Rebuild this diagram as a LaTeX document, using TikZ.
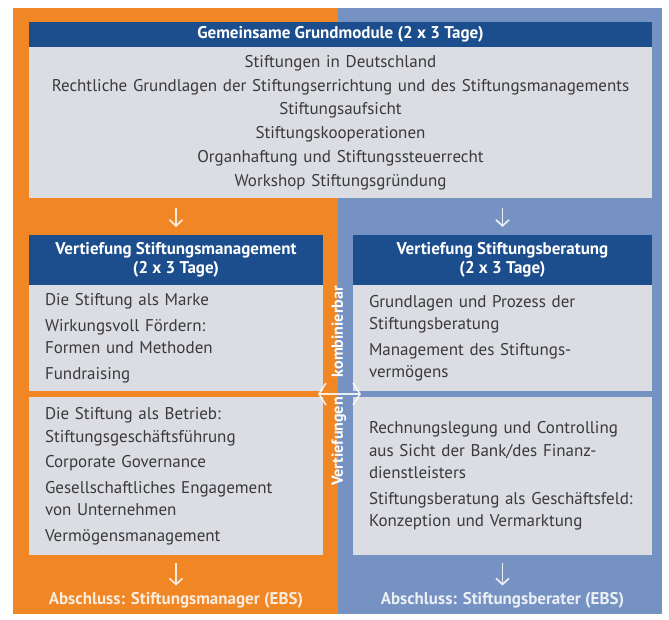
\documentclass[tikz,border=0pt]{standalone}
\usepackage{fontspec}
\setmainfont{PT Sans}
\usetikzlibrary{arrows.meta, positioning}

\definecolor{stiftorange}{RGB}{240,134,36}
\definecolor{stiftblau}{RGB}{118,146,194}
\definecolor{kopfblau}{RGB}{28,78,142}
\definecolor{feldgrau}{RGB}{219,221,226}
\definecolor{textgrau}{RGB}{58,58,60}

\begin{document}
\begin{tikzpicture}[
    x=1pt, y=-1pt,
    kopf/.style={rectangle, fill=kopfblau, text=white, font=\bfseries\fontsize{17}{18.5}\selectfont, align=center, outer sep=0pt, inner sep=0pt},
    feld/.style={rectangle, fill=feldgrau, text=textgrau, font=\fontsize{17}{22.5}\selectfont, align=left, outer sep=0pt, inner ysep=0pt, inner xsep=16pt},
    abschluss/.style={text=white, text opacity=0.85, font=\bfseries\fontsize{17}{18}\selectfont},
    runter/.style={-{Straight Barb[length=6pt, width=13pt]}, line width=1.7pt, draw=white, draw opacity=0.85},
    beides/.style={{Straight Barb[length=7pt, width=22pt]}-{Straight Barb[length=7pt, width=22pt]}, line width=1.6pt, draw=white, draw opacity=0.85}
]
    \useasboundingbox (0,0) rectangle (669,619);
    \fill[stiftorange] (13,8) rectangle (338,614);
    \fill[stiftblau] (338,8) rectangle (662,614);

    % gemeinsame Module
    \node[kopf, minimum width=623pt, minimum height=25pt] (grund) at (340.5,34.5) {Gemeinsame Grundmodule (2 x 3 Tage)};
    \node[feld, align=center, inner xsep=6pt, text width=611pt, minimum height=151pt, font=\fontsize{17}{23.7}\selectfont, below=0pt of grund] (grundinhalt) {Stiftungen in Deutschland\\ Rechtliche Grundlagen der Stiftungserrichtung und des Stiftungsmanagements\\ Stiftungsaufsicht\\ Stiftungskooperationen\\ Organhaftung und Stiftungssteuerrecht\\ Workshop Stiftungsgründung};

    % Vertiefung Stiftungsmanagement
    \node[kopf, minimum width=294pt, minimum height=50pt] (mkopf) at (176,260) {Vertiefung Stiftungsmanagement\\ (2 x 3 Tage)};
    \node[feld, text width=262pt, minimum height=106pt, below=0pt of mkopf] (moben) {Die Stiftung als Marke\\[3pt] Wirkungsvoll Fördern:\\ Formen und Methoden\\[3pt] Fundraising};
    \node[feld, text width=262pt, minimum height=158pt, below=6pt of moben] (munten) {Die Stiftung als Betrieb:\\ Stiftungsgeschäftsführung\\[3pt] Corporate Governance\\[3pt] Gesellschaftliches Engagement\\ von Unternehmen\\[3pt] Vermögensmanagement};
    \node[abschluss] (mabschluss) at (176,600) {Abschluss: Stiftungsmanager (EBS)};

    % Vertiefung Stiftungsberatung
    \node[kopf, minimum width=299pt, minimum height=50pt] (bkopf) at (502.5,260) {Vertiefung Stiftungsberatung\\ (2 x 3 Tage)};
    \node[feld, text width=267pt, minimum height=106pt, below=0pt of bkopf] (boben) {Grundlagen und Prozess der\\ Stiftungsberatung\\[3pt] Management des Stiftungs-\\ vermögens};
    \node[feld, text width=267pt, minimum height=158pt, below=6pt of boben] (bunten) {Rechnungslegung und Controlling\\ aus Sicht der Bank/des Finanz-\\ dienstleisters\\[3pt] Stiftungsberatung als Geschäftsfeld:\\ Konzeption und Vermarktung};
    \node[abschluss] (babschluss) at (502.5,600) {Abschluss: Stiftungsberater (EBS)};

    % Pfeile
    \draw[runter, shorten <=10pt, shorten >=8pt] (mkopf.north |- grundinhalt.south) -- (mkopf.north);
    \draw[runter, shorten <=10pt, shorten >=8pt] (bkopf.north |- grundinhalt.south) -- (bkopf.north);
    \draw[runter, shorten <=8pt, shorten >=3pt] (munten) -- (mabschluss);
    \draw[runter, shorten <=8pt, shorten >=3pt] (bunten) -- (babschluss);

    % kombinierbar
    \node[rotate=90, text=white, font=\bfseries\fontsize{16}{18}\selectfont] (kombi) at (339,386) {Vertiefungen\hspace{20pt}kombinierbar};
    \coordinate (kl) at (318,394);
    \coordinate (kr) at (361,394);
    \draw[beides] (kl) -- (kr);
\end{tikzpicture}
\end{document}
